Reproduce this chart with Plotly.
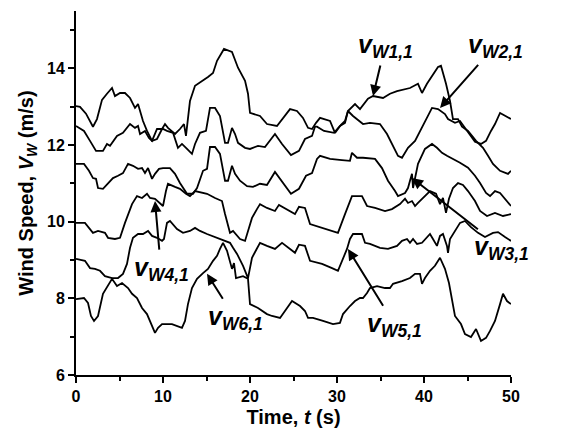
import plotly.graph_objects as go

# ---- data (time in s, wind speed in m/s) ----
t_w1 = [0.0, 0.46, 1.15, 1.95, 2.41, 2.99, 3.56, 4.14, 4.48, 5.06, 5.63, 6.21, 6.78, 7.13, 7.70, 8.16, 8.74, 9.31, 9.89, 10.23, 10.57, 11.38, 11.95, 12.41, 12.64, 13.10, 13.68, 14.60, 15.17, 15.75, 16.21, 17.01, 17.93, 18.62, 19.43, 19.77, 20.00, 21.15, 21.95, 23.10, 23.79, 24.60, 25.40, 26.09, 26.67, 27.13, 27.59, 28.05, 29.20, 29.77, 30.46, 30.92, 31.26, 32.07, 32.64, 33.22, 33.56, 34.14, 35.29, 36.09, 36.90, 38.39, 39.31, 39.77, 40.34, 41.61, 41.95, 42.53, 42.99, 43.33, 43.91, 44.37, 45.06, 45.98, 46.78, 47.36, 47.93, 48.74, 49.66, 50.0]
v_w1 = [13.02, 13.00, 12.82, 12.48, 12.68, 13.18, 13.34, 13.49, 13.28, 13.36, 13.36, 13.23, 12.97, 13.07, 12.63, 12.37, 12.11, 12.16, 12.42, 12.55, 12.45, 12.29, 12.42, 12.55, 12.24, 13.15, 13.55, 13.68, 13.78, 13.88, 14.20, 14.51, 14.43, 14.02, 13.68, 13.34, 12.84, 12.76, 12.55, 12.50, 12.71, 12.94, 12.89, 12.71, 12.45, 12.42, 12.58, 12.71, 12.63, 12.32, 12.53, 12.63, 12.89, 13.07, 12.94, 13.10, 13.21, 13.28, 13.23, 13.34, 13.41, 13.49, 13.60, 13.36, 13.60, 14.04, 14.07, 13.60, 13.15, 12.68, 12.68, 12.48, 12.37, 12.11, 11.93, 11.72, 11.51, 11.33, 11.25, 11.33]

t_w2 = [0.0, 0.92, 1.61, 2.30, 3.10, 3.56, 3.91, 4.71, 5.40, 6.21, 6.78, 7.13, 7.36, 7.93, 8.39, 8.74, 9.31, 10.00, 10.46, 11.15, 11.72, 12.18, 12.76, 13.33, 13.68, 14.25, 14.94, 15.40, 15.98, 16.55, 17.13, 17.47, 17.93, 18.28, 18.62, 19.43, 20.00, 20.92, 21.72, 22.87, 23.68, 24.71, 25.63, 26.32, 27.13, 27.47, 27.70, 28.51, 29.66, 30.34, 30.92, 31.26, 31.84, 32.99, 33.79, 34.94, 35.75, 36.32, 37.01, 37.47, 38.16, 38.97, 40.11, 40.92, 41.61, 42.41, 42.76, 43.56, 44.14, 44.71, 45.29, 45.86, 46.55, 47.13, 47.70, 48.16, 48.74, 49.31, 50.0]
v_w2 = [12.50, 12.37, 12.11, 11.85, 11.85, 12.03, 11.98, 12.24, 12.32, 12.55, 12.45, 12.50, 12.29, 12.37, 12.19, 12.11, 12.42, 12.42, 12.37, 12.32, 11.93, 12.03, 11.90, 11.77, 12.03, 12.32, 12.37, 12.97, 12.97, 12.76, 12.06, 12.06, 12.45, 12.29, 12.06, 11.93, 11.90, 11.98, 11.95, 12.29, 12.03, 11.74, 11.85, 12.16, 12.24, 12.48, 12.48, 12.37, 12.32, 12.50, 12.58, 12.89, 12.76, 12.55, 12.58, 12.55, 12.29, 12.03, 11.72, 11.67, 11.93, 12.11, 12.63, 12.97, 12.94, 12.81, 12.68, 12.58, 12.63, 12.45, 12.29, 12.09, 12.03, 12.11, 12.37, 12.55, 12.84, 12.76, 12.68]

t_w3 = [0.0, 0.92, 1.49, 1.95, 2.30, 2.53, 3.10, 3.68, 4.25, 4.83, 5.40, 5.98, 6.55, 7.13, 7.59, 7.93, 8.28, 8.74, 9.08, 9.54, 10.00, 10.80, 11.38, 11.95, 12.76, 13.45, 13.91, 14.60, 15.06, 15.40, 15.98, 16.55, 17.13, 17.47, 17.93, 18.28, 18.85, 19.66, 20.34, 21.15, 21.95, 22.87, 23.79, 24.71, 25.63, 26.44, 27.13, 27.70, 28.05, 29.20, 30.57, 31.49, 31.72, 32.30, 32.99, 34.37, 35.17, 35.86, 36.67, 37.01, 37.82, 38.16, 38.39, 38.62, 38.74, 38.97, 39.31, 40.11, 40.92, 41.49, 42.07, 42.64, 43.33, 44.14, 45.06, 45.86, 46.44, 47.13, 47.59, 48.16, 48.74, 49.31, 50.0]
v_w3 = [11.51, 11.51, 11.33, 11.14, 11.12, 10.88, 10.86, 10.99, 11.14, 11.20, 11.27, 11.51, 11.46, 11.38, 11.40, 11.27, 11.40, 11.12, 11.25, 11.38, 11.40, 11.40, 11.25, 11.01, 10.73, 10.73, 10.88, 11.33, 11.38, 11.95, 11.95, 11.77, 11.07, 11.07, 11.46, 11.25, 11.07, 10.93, 10.91, 10.99, 10.96, 11.30, 11.01, 10.73, 10.86, 11.20, 11.27, 11.64, 11.72, 11.64, 11.61, 11.59, 11.80, 11.67, 11.67, 11.64, 11.40, 11.07, 10.80, 10.67, 10.75, 10.88, 11.07, 11.25, 10.88, 11.14, 11.51, 11.90, 12.03, 11.93, 11.80, 11.72, 11.64, 11.54, 11.41, 11.20, 11.01, 10.75, 10.67, 10.80, 10.75, 10.60, 10.41]

t_w4 = [0.0, 1.03, 1.95, 2.53, 3.33, 3.68, 4.48, 5.06, 5.63, 6.44, 7.01, 7.59, 8.16, 8.51, 9.08, 9.66, 10.00, 10.34, 10.57, 11.38, 11.95, 12.64, 13.10, 13.68, 15.06, 15.98, 16.78, 17.13, 17.70, 18.05, 18.85, 19.43, 20.23, 20.80, 21.15, 21.95, 22.87, 23.33, 24.25, 25.17, 25.63, 26.32, 26.90, 28.28, 29.43, 30.11, 30.92, 31.72, 32.87, 33.45, 34.37, 35.52, 36.32, 37.24, 37.82, 38.16, 38.62, 38.97, 39.31, 40.11, 40.69, 41.38, 41.84, 42.18, 42.53, 42.87, 43.33, 43.91, 44.48, 45.06, 45.86, 46.44, 47.24, 48.16, 49.08, 50.0]
v_w4 = [9.97, 9.97, 9.71, 9.76, 9.71, 9.58, 9.55, 9.58, 9.97, 10.46, 10.67, 10.62, 10.73, 10.62, 10.60, 10.49, 10.41, 10.80, 10.99, 10.91, 10.86, 10.73, 10.67, 10.80, 10.73, 10.62, 10.54, 10.20, 9.71, 9.76, 9.55, 9.50, 10.10, 10.33, 10.46, 10.36, 10.28, 10.44, 10.33, 10.20, 10.39, 10.36, 9.94, 9.84, 9.76, 9.71, 10.20, 10.67, 10.67, 10.41, 10.36, 10.28, 10.33, 10.46, 10.60, 10.49, 10.54, 10.41, 10.49, 10.67, 10.80, 10.73, 10.46, 10.62, 10.23, 10.60, 10.88, 11.01, 10.96, 10.80, 10.54, 10.28, 10.15, 10.23, 10.15, 10.20]

t_w5 = [0.0, 1.03, 1.61, 2.18, 2.76, 3.33, 4.14, 4.83, 5.40, 5.86, 6.21, 6.55, 7.13, 7.70, 8.28, 8.74, 9.31, 9.89, 10.11, 10.46, 10.80, 11.61, 12.30, 13.10, 13.68, 14.25, 15.06, 16.21, 16.90, 17.70, 18.05, 18.51, 19.20, 19.77, 20.23, 20.80, 21.15, 21.95, 22.87, 23.68, 25.17, 25.63, 26.32, 26.90, 28.28, 29.43, 30.11, 31.15, 31.49, 31.84, 32.87, 33.22, 33.79, 34.94, 35.86, 36.90, 37.47, 38.05, 38.39, 38.74, 39.20, 39.77, 40.34, 40.69, 41.03, 41.49, 41.84, 42.18, 42.64, 42.76, 42.99, 43.56, 44.14, 44.71, 45.40, 46.21, 47.01, 47.93, 48.51, 49.31, 50.0]
v_w5 = [9.03, 8.98, 8.79, 8.77, 8.72, 8.58, 8.53, 8.53, 8.64, 8.90, 9.32, 9.58, 9.68, 9.68, 9.76, 9.63, 9.58, 9.50, 9.55, 9.97, 10.02, 9.81, 9.71, 9.76, 9.84, 9.76, 9.68, 9.58, 9.50, 9.45, 9.32, 9.16, 8.85, 8.53, 9.06, 9.32, 9.45, 9.37, 9.29, 9.45, 9.19, 9.40, 9.37, 8.98, 8.90, 8.79, 8.72, 9.29, 9.55, 9.68, 9.68, 9.45, 9.42, 9.32, 9.29, 9.37, 9.50, 9.55, 9.45, 9.55, 9.42, 9.45, 9.58, 9.68, 9.55, 9.37, 9.63, 9.68, 9.37, 9.19, 9.55, 9.76, 9.97, 10.02, 9.86, 9.71, 9.60, 9.71, 9.73, 9.60, 9.50]

t_w6 = [0.0, 0.92, 1.38, 1.72, 2.07, 2.53, 3.10, 3.68, 4.14, 4.71, 5.29, 5.98, 6.44, 7.01, 7.59, 8.16, 8.74, 9.08, 9.43, 9.89, 11.03, 11.72, 12.18, 12.53, 12.87, 13.33, 13.91, 14.60, 15.17, 15.75, 16.21, 16.55, 16.90, 17.36, 17.93, 18.16, 18.39, 19.20, 19.77, 20.00, 20.92, 21.95, 22.53, 23.45, 24.25, 24.83, 25.75, 26.32, 26.67, 27.24, 28.39, 29.54, 30.34, 30.69, 31.49, 32.07, 32.64, 32.99, 33.45, 33.79, 34.60, 35.52, 36.09, 36.44, 37.47, 38.39, 38.97, 39.54, 39.77, 40.11, 40.69, 41.26, 41.84, 42.41, 42.87, 43.22, 43.56, 44.25, 44.71, 45.40, 45.98, 46.55, 47.13, 47.59, 48.16, 48.74, 49.08, 49.54, 50.0]
v_w6 = [7.98, 8.01, 7.88, 7.54, 7.41, 7.54, 8.12, 8.32, 8.51, 8.32, 8.40, 8.27, 8.12, 8.01, 7.75, 7.59, 7.28, 7.10, 7.23, 7.33, 7.33, 7.28, 7.23, 7.41, 7.85, 8.27, 8.51, 8.66, 8.77, 8.98, 9.11, 9.29, 9.45, 9.24, 8.77, 8.92, 8.53, 8.58, 8.51, 7.85, 7.75, 7.59, 7.54, 7.49, 7.75, 7.93, 7.80, 7.67, 7.49, 7.49, 7.41, 7.33, 7.36, 7.59, 7.80, 7.93, 8.01, 8.01, 8.14, 8.27, 8.32, 8.27, 8.27, 8.38, 8.45, 8.53, 8.64, 8.64, 8.38, 8.53, 8.72, 8.85, 9.06, 8.77, 8.40, 8.01, 7.54, 7.33, 7.07, 6.99, 7.20, 6.89, 6.97, 7.15, 7.41, 7.85, 8.12, 7.93, 7.85]

series = [(t_w1, v_w1), (t_w2, v_w2), (t_w3, v_w3), (t_w4, v_w4), (t_w5, v_w5), (t_w6, v_w6)]

# label anchor points (time, speed) on each line, and label text
label_names = ["W1,1", "W2,1", "W3,1", "W4,1", "W5,1", "W6,1"]
label_t = [34.14, 41.84, 38.62, 9.08, 31.26, 15.06]
label_v = [13.28, 12.97, 11.14, 10.54, 9.29, 8.64]
label_ax = [12, 55, 90, 6, 47, 28]
label_ay = [-50, -62, 70, 68, 76, 44]

FONT = "Arial, Liberation Sans, sans-serif"

fig = go.Figure()
for t, v in series:
    fig.add_trace(go.Scatter(x=t, y=v, mode="lines",
                             line=dict(color="black", width=1.8),
                             showlegend=False, hoverinfo="skip"))

for name, t, v, ax, ay in zip(label_names, label_t, label_v, label_ax, label_ay):
    fig.add_annotation(
        x=t, y=v, xref="x", yref="y", ax=ax, ay=ay,
        text="<b><i>v</i></b><sub><b><i>" + name + "</i></b></sub>",
        font=dict(family=FONT, size=25, color="black"),
        showarrow=True, arrowhead=2, arrowsize=1.1, arrowwidth=2,
        arrowcolor="black", standoff=0, startstandoff=2,
    )

# the page adds an 8 px body margin, so margins are reduced on the left/top
fig.update_layout(
    width=587, height=438,
    margin=dict(l=68, r=84, t=3, b=71),
    paper_bgcolor="white", plot_bgcolor="white",
    font=dict(family=FONT, color="black"),
)
fig.update_xaxes(
    range=[0, 50], tickmode="linear", tick0=0, dtick=10, automargin=False,
    showline=True, linecolor="black", linewidth=2, mirror=False,
    ticks="outside", ticklen=6, tickwidth=1.5, tickcolor="black",
    minor=dict(dtick=5, ticks="outside", ticklen=4, tickwidth=1.5, tickcolor="black"),
    showgrid=False, zeroline=False,
    tickfont=dict(family=FONT, size=16, color="black"),
    tickprefix="<b>", ticksuffix="</b>",
    title=dict(text="<b>Time, <i>t</i> (s)</b>", font=dict(family=FONT, size=20), standoff=6),
)
fig.update_yaxes(
    range=[6, 15.5], tickmode="array", tickvals=[6, 8, 10, 12, 14], automargin=False,
    ticktext=["<b>6</b>", "<b>8</b>", "<b>10</b>", "<b>12</b>", "<b>14</b>"],
    showline=True, linecolor="black", linewidth=2, mirror=False,
    ticks="outside", ticklen=6, tickwidth=1.5, tickcolor="black",
    minor=dict(tickvals=[7, 9, 11, 13, 15], ticks="outside", ticklen=4, tickwidth=1.5, tickcolor="black"),
    showgrid=False, zeroline=False,
    tickfont=dict(family=FONT, size=16, color="black"),
    title=dict(text="<b>Wind Speed, <i>V</i><sub><i>W</i></sub> (m/s)</b>", font=dict(family=FONT, size=20), standoff=8),
)

fig.write_html("out.html")
